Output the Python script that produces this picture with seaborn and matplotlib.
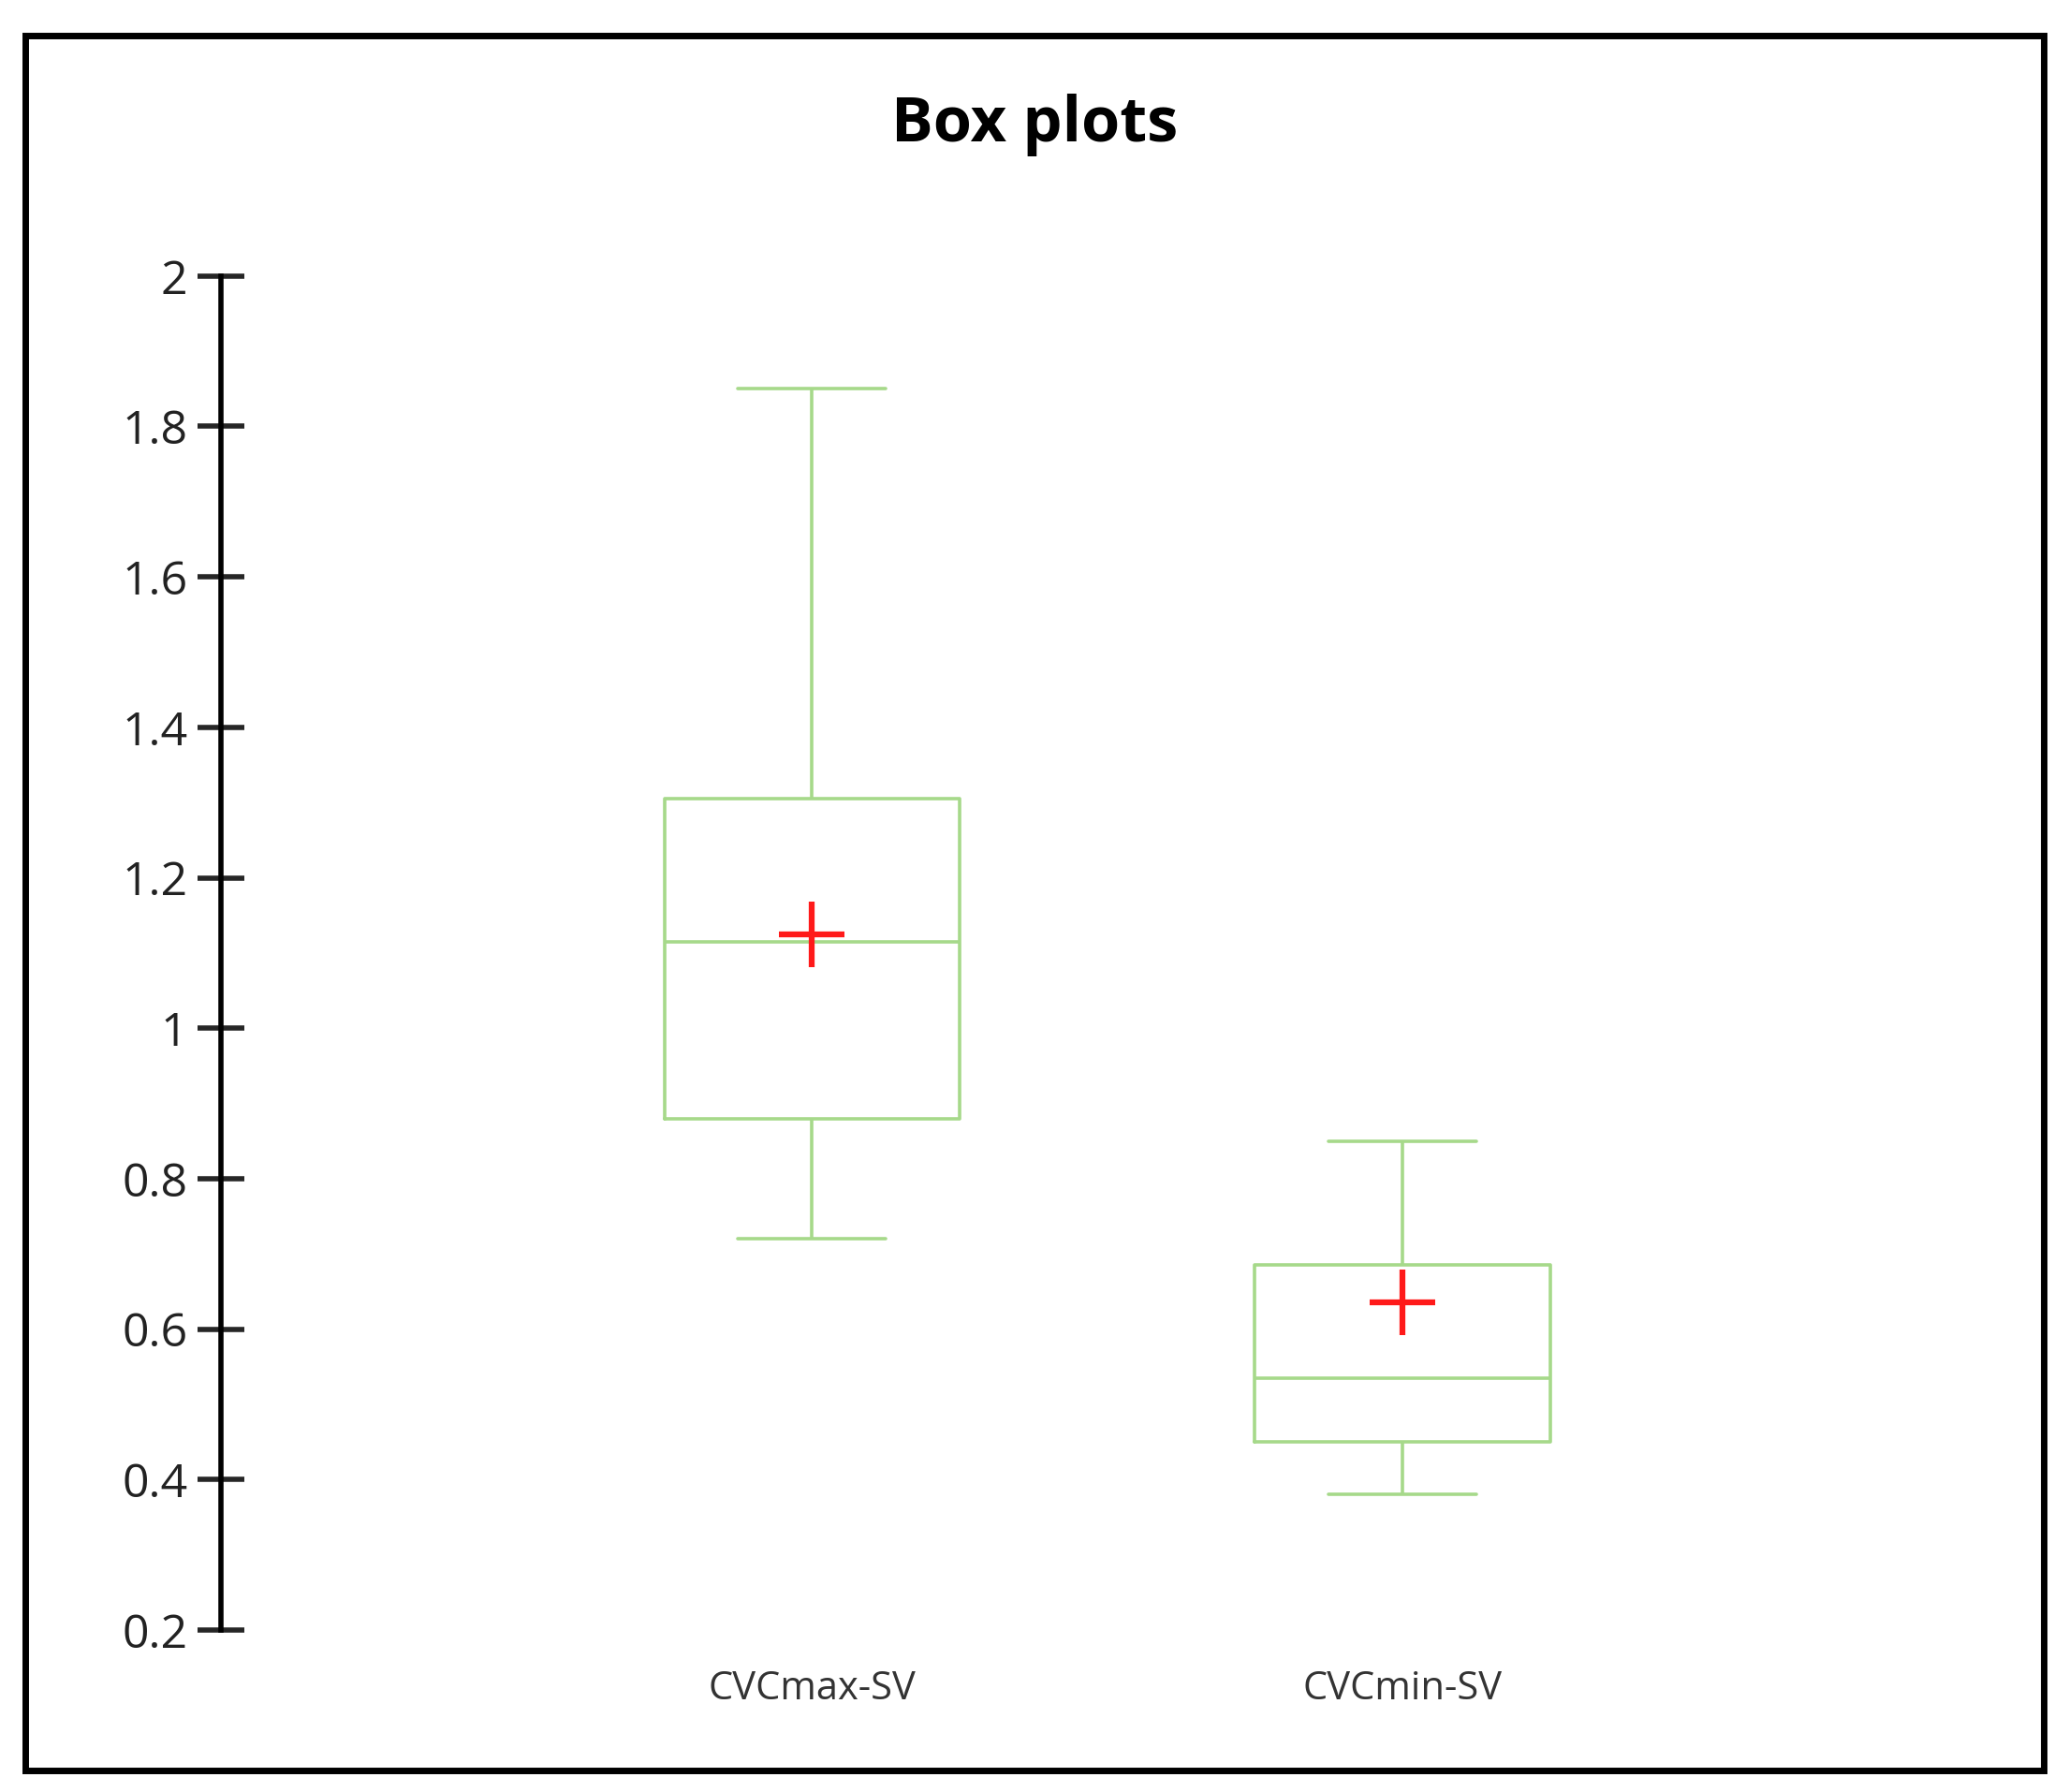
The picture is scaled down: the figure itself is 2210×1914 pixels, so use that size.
import numpy as np
import pandas as pd
import matplotlib
matplotlib.use("Agg")
import matplotlib.pyplot as plt
import seaborn as sns
from matplotlib.patches import Rectangle

categories = ["CVCmax-SV", "CVCmin-SV"]
whisker_low = [0.72, 0.38]
q1 = [0.88, 0.45]
median = [1.115, 0.535]
q3 = [1.305, 0.685]
whisker_high = [1.85, 0.85]
means = [1.125, 0.635]

rows = []
for i, c in enumerate(categories):
    for v in (whisker_low[i], q1[i], median[i], q3[i], whisker_high[i]):
        rows.append({"group": c, "value": v})
df = pd.DataFrame(rows)

sns.set_style("white")
plt.rcParams["font.family"] = ["Open Sans", "DejaVu Sans"]
plt.rcParams["text.color"] = "black"

green = "#a6d98a"
fig = plt.figure(figsize=(22.1, 19.14), dpi=100)
ax = fig.add_axes([0.107, 0.0904, 0.842, 0.7556])

sns.boxplot(data=df, x="group", y="value", ax=ax, whis=(0, 100), width=0.5,
            fill=False, color=green, linewidth=2.6, showcaps=True,
            capprops=dict(color=green), whiskerprops=dict(color=green),
            medianprops=dict(color=green))
sns.scatterplot(x=categories, y=means, ax=ax, marker="+", s=2600, color="#ff1a1a",
                linewidth=4.5, zorder=5, legend=False)

ax.set_xlim(-1.0, 1.95)
ax.set_ylim(0.2, 2.0)
ax.set_yticks(np.arange(0.2, 2.01, 0.2))
ax.set_yticklabels(["0.2", "0.4", "0.6", "0.8", "1", "1.2", "1.4", "1.6", "1.8", "2"])
for s in ["top", "right", "bottom"]:
    ax.spines[s].set_visible(False)
ax.spines["left"].set_linewidth(4)
ax.spines["left"].set_color("black")
ax.tick_params(axis="y", direction="inout", length=36, width=4, labelsize=36, pad=8,
               left=True, labelcolor="#222222")
ax.tick_params(axis="x", length=0, labelsize=30, pad=30, colors="#333333")
ax.set_xlabel("")
ax.set_ylabel("")

fig.text(0.5, 0.93, "Box plots", ha="center", va="center", fontsize=48,
         fontweight="bold", color="black")
fig.patches.append(Rectangle((0.012, 0.012), 0.976, 0.968, transform=fig.transFigure,
                             fill=False, edgecolor="black", linewidth=5))
fig.savefig("out.png", dpi=100)
